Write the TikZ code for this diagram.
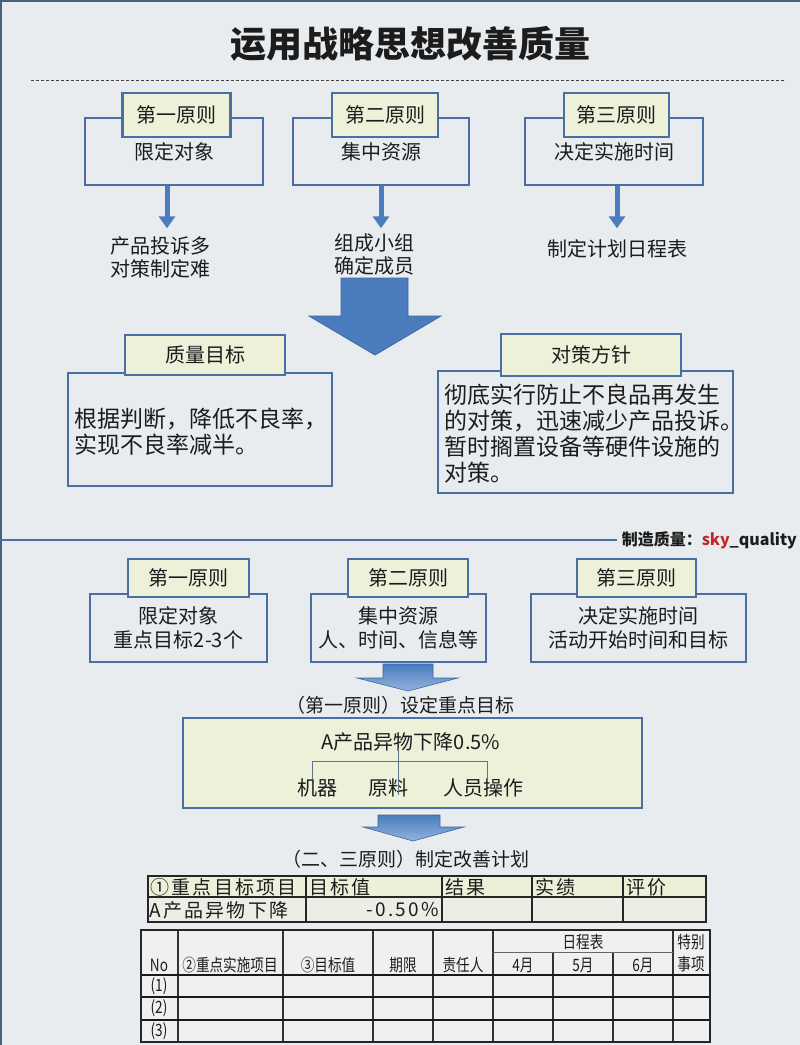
\documentclass[tikz,border=0pt]{standalone}
\usepackage{fontspec}
\setmainfont{Noto Sans CJK SC}
\usetikzlibrary{arrows.meta,calc}
\definecolor{bg}{HTML}{E9ECEF}
\definecolor{boxblue}{HTML}{4A6FA5}
\definecolor{lgreen}{HTML}{EDF1DA}
\definecolor{arrblue}{HTML}{4A7CBE}
\definecolor{arredge}{HTML}{3B68A3}
\definecolor{arrlight}{HTML}{93B3DD}
\definecolor{txt}{HTML}{1C1C1C}
\definecolor{framec}{HTML}{4B5F7E}
\definecolor{wmred}{HTML}{C0282D}
\definecolor{treec}{HTML}{5E7288}
\definecolor{tabhead}{HTML}{EDF0D8}
\definecolor{tabrow}{HTML}{ECEEE6}
\newcommand{\fsz}[2]{\fontsize{#1}{#2}\selectfont}
\newcommand{\nar}[1]{\scalebox{0.8}[1]{#1}}
\begin{document}
\begin{tikzpicture}[x=1pt,y=-1pt,
  every node/.style={text=txt, inner sep=0pt},
  obox/.style={draw=boxblue, line width=2.6pt, font=\fsz{20}{24}, align=center},
  lbox/.style={draw=boxblue, line width=2.6pt, fill=lgreen, font=\fsz{20}{24}},
  thinarr/.style={draw=arrblue, line width=5pt, -{Triangle[width=16pt,length=12pt]}},
  note/.style={font=\fsz{20}{23}, align=center},
  bigtext/.style={font=\fsz{23}{26.5}, align=left},
  treeline/.style={draw=treec, line width=0.9pt},
  tabtxt/.style={font=\fsz{19}{21}\addfontfeatures{LetterSpace=12}},
  tab2/.style={font=\fsz{17}{22}, align=center}
]
\useasboundingbox (0,0) rectangle (800,1045);
\fill[bg] (0,0) rectangle (800,1045);
\draw[framec, line width=3pt] (0,1045) -- (0,0) -- (800,0);

% title
\node[font=\fsz{36}{40}\bfseries] (title) at (410,44) {运用战略思想改善质量};
\draw[black!75, line width=0.8pt, dash pattern=on 3pt off 2pt] (31,80) -- (786,80);

% top principles
\node[obox, minimum width=178pt, minimum height=67pt] (o1) at (174,151.5) {限定对象};
\node[lbox, minimum width=108pt, minimum height=44pt] (l1) at (176.5,115) {第一原则};
\node[obox, minimum width=176pt, minimum height=67pt] (o2) at (381,151.5) {集中资源};
\node[lbox, minimum width=106pt, minimum height=44pt] (l2) at (385,115) {第二原则};
\node[obox, minimum width=178pt, minimum height=67pt] (o3) at (614,151.5) {决定实施时间};
\node[lbox, minimum width=105pt, minimum height=44pt] (l3) at (616.5,115) {第三原则};

\node[note] (t1) at (160,257) {产品投诉多\\对策制定难};
\node[note] (t2) at (374,254) {组成小组\\确定成员};
\node[note] (t3) at (617,249) {制定计划日程表};

\draw[thinarr] ([xshift=-7pt]o1.south) -- ++(0,42);
\draw[thinarr] (o2.south) -- ++(0,42);
\draw[thinarr] ([xshift=3pt]o3.south) -- ++(0,42);

% big arrow
\fill[arrblue, draw=arredge, line width=0.8pt] (341,278) -- (408,278) -- (408,316) -- (441,316) -- (375,355) -- (309,316) -- (341,316) -- cycle;

% goal / policy boxes
\node[obox, minimum width=264pt, minimum height=113pt] (o4) at (200,429.5) {};
\node[lbox, minimum width=160pt, minimum height=40pt] (l4) at (205,355) {质量目标};
\node[bigtext, anchor=west] (q1) at (74,431.5) {根据判断，降低不良率，\\实现不良率减半。};
\node[obox, minimum width=295pt, minimum height=122pt] (o5) at (585.5,432) {};
\node[lbox, minimum width=180pt, minimum height=42pt] (l5) at (591,355) {对策方针};
\node[bigtext, anchor=west, font=\fsz{23}{25.8}] (q2) at (444,433.5) {彻底实行防止不良品再发生\\的对策，迅速减少产品投诉。\\暂时搁置设备等硬件设施的\\对策。};

% separator
\node[anchor=east, font=\fsz{16}{18}\bfseries] (wm) at (797,540) {制造质量：\textcolor{wmred}{sky}\_quality};
\draw[boxblue, line width=2pt] (0,540) -- ([xshift=-5pt]wm.west);

% lower principles
\node[obox, minimum width=177pt, minimum height=68pt, font=\fsz{20}{24}] (o6) at (178.5,628) {限定对象\\重点目标2-3个};
\node[lbox, minimum width=121pt, minimum height=38pt] (l6) at (188.5,578) {第一原则};
\node[obox, minimum width=175pt, minimum height=68pt, font=\fsz{20}{24}] (o7) at (398.5,628) {集中资源\\人、时间、信息等};
\node[lbox, minimum width=120pt, minimum height=38pt] (l7) at (408,578) {第二原则};
\node[obox, minimum width=215pt, minimum height=68pt, font=\fsz{20}{24}] (o8) at (638.5,628) {决定实施时间\\活动开始时间和目标};
\node[lbox, minimum width=119pt, minimum height=38pt] (l8) at (636.5,578) {第三原则};

\shade[top color=arrblue, bottom color=arrlight, draw=arredge, line width=0.6pt] (383,664) -- (433,664) -- (433,678) -- (458,678) -- (408,691) -- (357,678) -- (383,678) -- cycle;
\node[font=\fsz{19}{22}] (s1) at (400,705) {（第一原则）设定重点目标};

% green goal box
\node[draw=boxblue, line width=2.6pt, fill=lgreen, minimum width=459pt, minimum height=90pt] (g) at (412.5,763) {};
\node[font=\fsz{20}{24}] (ta) at (411,742) {A产品异物下降0.5\%};
\node[font=\fsz{20}{24}] (tm1) at (317,788) {机器};
\node[font=\fsz{20}{24}] (tm2) at (388,788) {原料};
\node[font=\fsz{20}{24}] (tm3) at (483,788) {人员操作};
\coordinate (hl) at (312,761);
\coordinate (hr) at (487,761);
\draw[treeline] (398,748) -- (398,795);
\draw[treeline] (hl |- tm1.north) -- (hl) -- (hr) -- (hr |- tm3.north);

\shade[top color=arrblue, bottom color=arrlight, draw=arredge, line width=0.6pt] (378,815) -- (440,815) -- (440,827) -- (464,827) -- (413,841) -- (363,827) -- (378,827) -- cycle;
\node[font=\fsz{19}{22}] (s2) at (406,859) {（二、三原则）制定改善计划};

% table 1
\fill[tabhead] (148,876) rectangle (706,897);
\fill[tabrow] (148,897) rectangle (706,922);
\draw[black!85, line width=1.1pt] (148,897) -- (706,897);
\foreach \x in {306,442,532,623} \draw[black!85, line width=1.1pt] (\x,876) -- (\x,922);
\draw[black!85, line width=1.8pt] (148,876) rectangle (706,922);
\node[tabtxt, anchor=west] (c11) at (150,887) {①重点目标项目};
\node[tabtxt, anchor=west] (c12) at (309,887) {目标值};
\node[tabtxt, anchor=west] (c13) at (445,887) {结果};
\node[tabtxt, anchor=west] (c14) at (535,887) {实绩};
\node[tabtxt, anchor=west] (c15) at (626,887) {评价};
\node[tabtxt, anchor=west] (c21) at (149,910) {A产品异物下降};
\node[tabtxt, anchor=east] (c22) at (439,910) {-0.50\%};

% table 2
\fill[black!3, opacity=0.4] (141,930) rectangle (710,1042);
\foreach \x in {178,283,373,433,493,673} \draw[black!80, line width=1.2pt] (\x,930) -- (\x,1042);
\foreach \x in {553,613} \draw[black!80, line width=1.2pt] (\x,952) -- (\x,1042);
\draw[black!60, line width=0.9pt] (493,952) -- (673,952);
\draw[black!90, line width=2.4pt] (141,975) -- (710,975);
\draw[black!90, line width=2pt] (141,997) -- (710,997);
\draw[black!90, line width=2pt] (141,1020) -- (710,1020);
\draw[black!85, line width=1.6pt] (141,930) rectangle (710,1042);
\node[tab2] (h1) at (159,965) {\nar{No}};
\node[tab2] (h2) at (230,965) {\nar{②重点实施项目}};
\node[tab2] (h3) at (328,965) {\nar{③目标值}};
\node[tab2] (h4) at (403,965) {\nar{期限}};
\node[tab2] (h5) at (463,965) {\nar{责任人}};
\node[tab2] (h6) at (583,942) {\nar{日程表}};
\node[tab2] (h7) at (523,965) {\nar{4月}};
\node[tab2] (h8) at (583,965) {\nar{5月}};
\node[tab2] (h9) at (643,965) {\nar{6月}};
\node[tab2] (h10) at (691,953) {\nar{特别}\\\nar{事项}};
\node[tab2] (r1) at (159,986) {\nar{(1)}};
\node[tab2] (r2) at (159,1008.5) {\nar{(2)}};
\node[tab2] (r3) at (159,1031) {\nar{(3)}};
\end{tikzpicture}
\end{document}
